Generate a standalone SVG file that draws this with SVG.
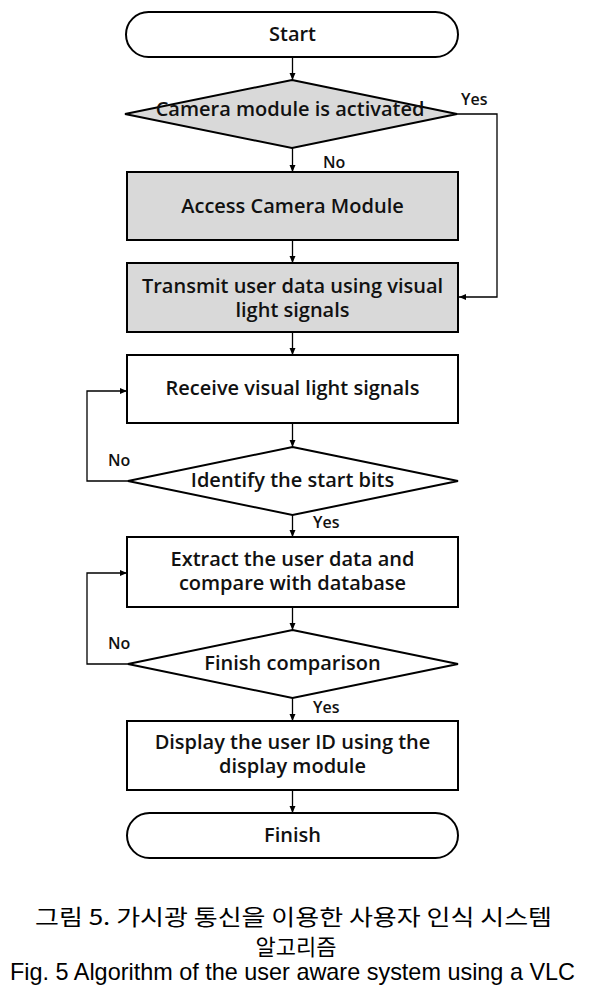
<svg xmlns="http://www.w3.org/2000/svg" width="596" height="987" viewBox="0 0 596 987">
<style>
.shape{stroke:#000;stroke-width:2;fill:#fff}
.gray{fill:#d9d9d9}
.t{font-family:"Open Sans","Noto Sans",sans-serif;font-weight:600;font-size:20px;fill:#111;text-anchor:middle}
.lbl{font-family:"Open Sans","Noto Sans",sans-serif;font-weight:600;font-size:16px;fill:#111}
.conn{stroke:#000;stroke-width:1.3;fill:none;marker-end:url(#arr)}
.cap{font-family:"Noto Sans CJK KR","Noto Sans",sans-serif;font-size:22px;fill:#000}
.capen{font-family:"Liberation Sans",Arial,sans-serif;font-size:24px;fill:#000}
</style>
<defs>
<marker id="arr" markerUnits="userSpaceOnUse" markerWidth="8" markerHeight="8" refX="7" refY="4" orient="auto">
<path d="M0,1 L7,4 L0,7 Z" fill="#000"/>
</marker>
</defs>
<rect width="596" height="987" fill="#fff"/>
<g id="connectors">
<line class="conn" x1="292.5" y1="57" x2="292.5" y2="80"/>
<line class="conn" x1="292.5" y1="148" x2="292.5" y2="172"/>
<polyline class="conn" points="457,114 497,114 497,297 459,297"/>
<line class="conn" x1="292.5" y1="240" x2="292.5" y2="263"/>
<line class="conn" x1="292.5" y1="332" x2="292.5" y2="355"/>
<line class="conn" x1="292.5" y1="423" x2="292.5" y2="447"/>
<polyline class="conn" points="128,481 87,481 87,391 127,391"/>
<line class="conn" x1="292.5" y1="515" x2="292.5" y2="537"/>
<line class="conn" x1="292.5" y1="607" x2="292.5" y2="630"/>
<polyline class="conn" points="128,664 87,664 87,573 127,573"/>
<line class="conn" x1="292.5" y1="698" x2="292.5" y2="721"/>
<line class="conn" x1="292.5" y1="790" x2="292.5" y2="813"/>
<text class="lbl" x="461" y="105">Yes</text>
<text class="lbl" x="323" y="168">No</text>
<text class="lbl" x="108" y="466">No</text>
<text class="lbl" x="313" y="528">Yes</text>
<text class="lbl" x="108" y="649">No</text>
<text class="lbl" x="313" y="713">Yes</text>
</g>
<g id="start">
<rect class="shape" x="126" y="12" width="332" height="45" rx="22.5"/>
<text class="t" x="292.5" y="41">Start</text>
</g>
<g id="camera-activated">
<polygon class="shape gray" points="292,80 457,114 292,148 125,114"/>
<text class="t" x="290" y="116">Camera module is activated</text>
</g>
<g id="access-camera">
<rect class="shape gray" x="127" y="172" width="331" height="68"/>
<text class="t" x="292.5" y="213">Access Camera Module</text>
</g>
<g id="transmit">
<rect class="shape gray" x="127" y="263" width="331" height="69"/>
<text class="t" x="292.5" y="293">Transmit user data using visual<tspan x="292.5" dy="24">light signals</tspan></text>
</g>
<g id="receive">
<rect class="shape" x="127" y="355" width="331" height="68"/>
<text class="t" x="292.5" y="395">Receive visual light signals</text>
</g>
<g id="identify">
<polygon class="shape" points="292.5,447 458,481 292.5,515 128,481"/>
<text class="t" x="292.5" y="487">Identify the start bits</text>
</g>
<g id="extract">
<rect class="shape" x="127" y="537" width="331" height="70"/>
<text class="t" x="292.5" y="566">Extract the user data and<tspan x="292.5" dy="24">compare with database</tspan></text>
</g>
<g id="finish-comparison">
<polygon class="shape" points="292.5,630 458,664 292.5,698 128,664"/>
<text class="t" x="292.5" y="670">Finish comparison</text>
</g>
<g id="display">
<rect class="shape" x="127" y="721" width="331" height="69"/>
<text class="t" x="292.5" y="749">Display the user ID using the<tspan x="292.5" dy="24">display module</tspan></text>
</g>
<g id="finish">
<rect class="shape" x="127" y="813" width="331" height="45" rx="22.5"/>
<text class="t" x="292.5" y="842">Finish</text>
</g>
<g id="caption">
<text class="cap" x="35" y="925" textLength="517" lengthAdjust="spacingAndGlyphs">그림 5. 가시광 통신을 이용한 사용자 인식 시스템</text>
<text class="cap" x="296" y="955" text-anchor="middle">알고리즘</text>
<text class="capen" x="10" y="980" textLength="565" lengthAdjust="spacingAndGlyphs">Fig. 5 Algorithm of the user aware system using a VLC</text>
</g>
</svg>
